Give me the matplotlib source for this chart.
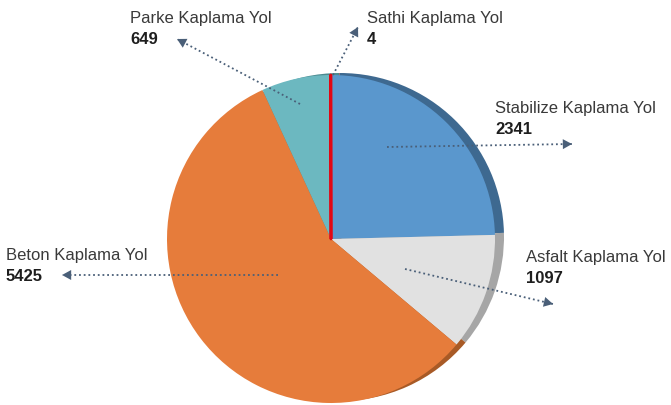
import matplotlib
matplotlib.use('Agg')
import math

import matplotlib.pyplot as plt

labels = ['Stabilize Kaplama Yol', 'Asfalt Kaplama Yol', 'Beton Kaplama Yol',
          'Parke Kaplama Yol', 'Sathi Kaplama Yol']
values = [2341, 1097, 5425, 649, 4]

face_colors = ['#5a97cd', '#e1e1e1', '#e67c3b', '#6cb8c0', '#e30613']
side_colors = ['#3e6990', '#a6a6a6', '#a85a26', '#4b8a90', '#b0040f']
arrow_color = '#4a5f78'

W, H = 671, 406

# label layout in pixels from the top-left: (x, baseline of the name)
label_pos = [(495, 113), (526, 262), (6, 260), (130, 23), (367, 23)]
arrow_from = [(387, 148), (405, 270), (278, 276), (300, 105), (333, 76)]
arrow_to = [(572, 145), (553, 305), (62, 276), (177, 40), (358, 28)]


def main():
    fig = plt.figure(figsize=(W / 100, H / 100), dpi=100)
    ax = fig.add_axes([0, 0, 1, 1])

    cx, cy, r = 331, H - 240, 164
    # side of the disc: same slices, shifted right and a little up
    ax.pie(values, colors=side_colors, startangle=90, counterclock=False,
           center=(cx + 9, cy + 2), radius=r, wedgeprops=dict(linewidth=0))
    wedges, _ = ax.pie(values, colors=face_colors, startangle=90, counterclock=False,
                       center=(cx, cy), radius=r, wedgeprops=dict(linewidth=0))
    # the tiny slice gets an outline so it stays visible
    wedges[4].set_edgecolor(face_colors[4])
    wedges[4].set_linewidth(2)
    wedges[4].set_joinstyle('round')

    for i, name in enumerate(labels):
        x, base = label_pos[i]
        ax.text(x, H - base, name, fontsize=12, family=['Liberation Sans', 'DejaVu Sans'],
                color='#3a3a3a', va='baseline', ha='left')
        ax.text(x, H - base - 21, str(values[i]), fontsize=12,
                family=['Liberation Sans', 'DejaVu Sans'],
                weight='bold', color='#1e1e1e', va='baseline', ha='left')

        x0, y0 = arrow_from[i]
        x1, y1 = arrow_to[i]
        ax.plot([x0, x1], [H - y0, H - y1], ls=(0, (1, 1.6)), lw=1.3, color=arrow_color,
                solid_capstyle='butt')
        d = math.hypot(x1 - x0, y1 - y0)
        bx = x1 - (x1 - x0) / d * 12
        by = y1 - (y1 - y0) / d * 12
        ax.annotate('', xy=(x1, H - y1), xytext=(bx, H - by),
                    arrowprops=dict(arrowstyle='-|>,head_length=0.55,head_width=0.3',
                                    color=arrow_color, lw=0, shrinkA=0, shrinkB=0,
                                    mutation_scale=12))

    ax.set_xlim(0, W)
    ax.set_ylim(0, H)
    ax.set_aspect('auto')
    ax.axis('off')
    fig.savefig('out.png', dpi=100)


if __name__ == '__main__':
    main()
